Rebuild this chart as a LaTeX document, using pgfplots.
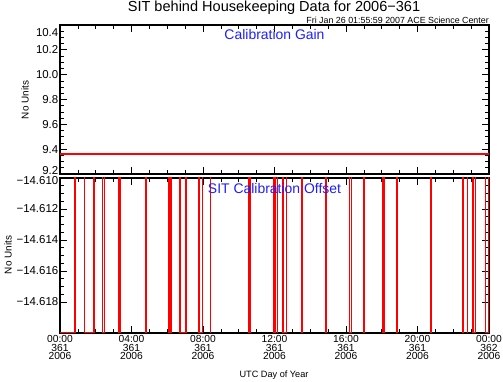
\documentclass[border=0pt]{standalone}
\usepackage{pgfplots}
\pgfplotsset{compat=1.18}
\usepackage{fontspec}
\setmainfont{Liberation Sans}
\definecolor{idlred}{RGB}{255,0,0}
\definecolor{idlblue}{RGB}{30,30,255}
\newcommand{\shiftlab}[2]{\raisebox{#1}[\height][\depth]{#2}}
\begin{document}
\begin{tikzpicture}
\useasboundingbox (0bp,0bp) rectangle (503bp,382bp);
\pgfplotsset{
  common/.style={
    scale only axis, width=429bp,
    xmin=0, xmax=24, xtick={0,4,8,12,16,20,24}, minor x tick num=3,
    minor y tick num=3,
    tick align=inside, major tick length=7bp, minor tick length=4bp,
    axis line style={line width=1.3bp},
    every tick/.style={black, line width=0.7bp},
    yticklabel style={font=\fontsize{11.5}{11.5}\selectfont, inner sep=1.5bp},
    xticklabel style={font=\fontsize{10.3}{8.8}\selectfont, align=center, inner sep=2bp},
    clip=true,
  }
}
% Upper panel: Calibration Gain
\begin{axis}[common, at={(60bp,208bp)}, anchor=south west, height=149bp,
  ymin=9.2, ymax=10.4,
  ytick={9.2,9.4,9.6,9.8,10.0,10.2,10.4},
  yticklabels={\shiftlab{3.5bp}{9.2},9.4,9.6,9.8,10.0,10.2,\shiftlab{-8bp}{10.4}},
  xticklabels={}]
\addplot[idlred, line width=1.5bp] coordinates {(0,9.36) (24,9.36)};
\node[idlblue, font=\fontsize{14}{14}\selectfont] at (axis description cs:0.5,0.933) {Calibration Gain};
\end{axis}
% Lower panel: SIT Calibration Offset
\begin{axis}[common, at={(60bp,49bp)}, anchor=south west, height=155bp,
  ymin=-14.62, ymax=-14.61,
  ytick={-14.618,-14.616,-14.614,-14.612,-14.610},
  yticklabels={−14.618,−14.616,−14.614,−14.612,\shiftlab{-3bp}{−14.610}},
  xticklabels={{00:00\\361\\2006},{04:00\\361\\2006},{08:00\\361\\2006},{12:00\\361\\2006},{16:00\\361\\2006},{20:00\\361\\2006},{00:00\\362\\2006}}]
\addplot[idlred, line width=1.5bp] coordinates {
(0,-14.620) (0.827,-14.620) (0.827,-14.609)
(1.358,-14.609) (1.358,-14.620) (1.901,-14.620) (1.901,-14.609)
(2.387,-14.609) (2.387,-14.620) (2.477,-14.620) (2.477,-14.609)
(3.298,-14.609) (3.298,-14.620) (3.382,-14.620) (3.382,-14.609)
(4.795,-14.609) (4.795,-14.620) (4.810,-14.620) (4.810,-14.609)
(6.093,-14.609) (6.093,-14.620) (6.205,-14.620) (6.205,-14.609)
(6.708,-14.609) (6.708,-14.620) (7.044,-14.620) (7.044,-14.609)
(7.771,-14.609) (7.771,-14.620) (7.977,-14.620) (7.977,-14.609)
(8.420,-14.609) (8.420,-14.620) (8.432,-14.620) (8.432,-14.609)
(10.566,-14.609) (10.566,-14.620) (10.622,-14.620) (10.622,-14.609)
(11.963,-14.609) (11.963,-14.620) (12.036,-14.620) (12.036,-14.609)
(12.163,-14.609) (12.163,-14.620) (12.176,-14.620) (12.176,-14.609)
(12.483,-14.609) (12.483,-14.620) (12.673,-14.620) (12.673,-14.609)
(13.515,-14.609) (13.515,-14.620) (13.543,-14.620) (13.543,-14.609)
(14.862,-14.609) (14.862,-14.620) (14.877,-14.620) (14.877,-14.609)
(16.184,-14.609) (16.184,-14.620) (16.307,-14.620) (16.307,-14.609)
(17.005,-14.609) (17.005,-14.620) (17.018,-14.620) (17.018,-14.609)
(18.040,-14.609) (18.040,-14.620) (18.130,-14.620) (18.130,-14.609)
(18.866,-14.609) (18.866,-14.620) (18.880,-14.620) (18.880,-14.609)
(20.756,-14.609) (20.756,-14.620) (20.780,-14.620) (20.780,-14.609)
(22.540,-14.609) (22.540,-14.620) (22.554,-14.620) (22.554,-14.609)
(22.785,-14.609) (22.785,-14.620) (22.800,-14.620) (22.800,-14.609)
(23.116,-14.609) (23.116,-14.620) (23.255,-14.620) (23.255,-14.609)
(23.815,-14.609) (23.815,-14.620) (23.965,-14.620) (23.965,-14.609)
(24,-14.609)
};
\node[idlblue, font=\fontsize{14}{14}\selectfont] at (axis description cs:0.5,0.935) {SIT Calibration Offset};
\end{axis}
% Titles and labels
\node[font=\fontsize{14.6}{14.6}\selectfont] at (274bp,374.5bp) {SIT behind Housekeeping Data for 2006−361};
\node[font=\fontsize{8.9}{8.9}\selectfont, anchor=east, inner sep=0pt] at (489bp,361.5bp) {Fri Jan 26 01:55:59 2007 ACE Science Center};
\node[font=\fontsize{10}{10}\selectfont, rotate=90] at (25bp,282bp) {No Units};
\node[font=\fontsize{10}{10}\selectfont, rotate=90] at (8bp,127bp) {No Units};
\node[font=\fontsize{9.2}{9.2}\selectfont] at (274bp,6.5bp) {UTC Day of Year};
\end{tikzpicture}
\end{document}
